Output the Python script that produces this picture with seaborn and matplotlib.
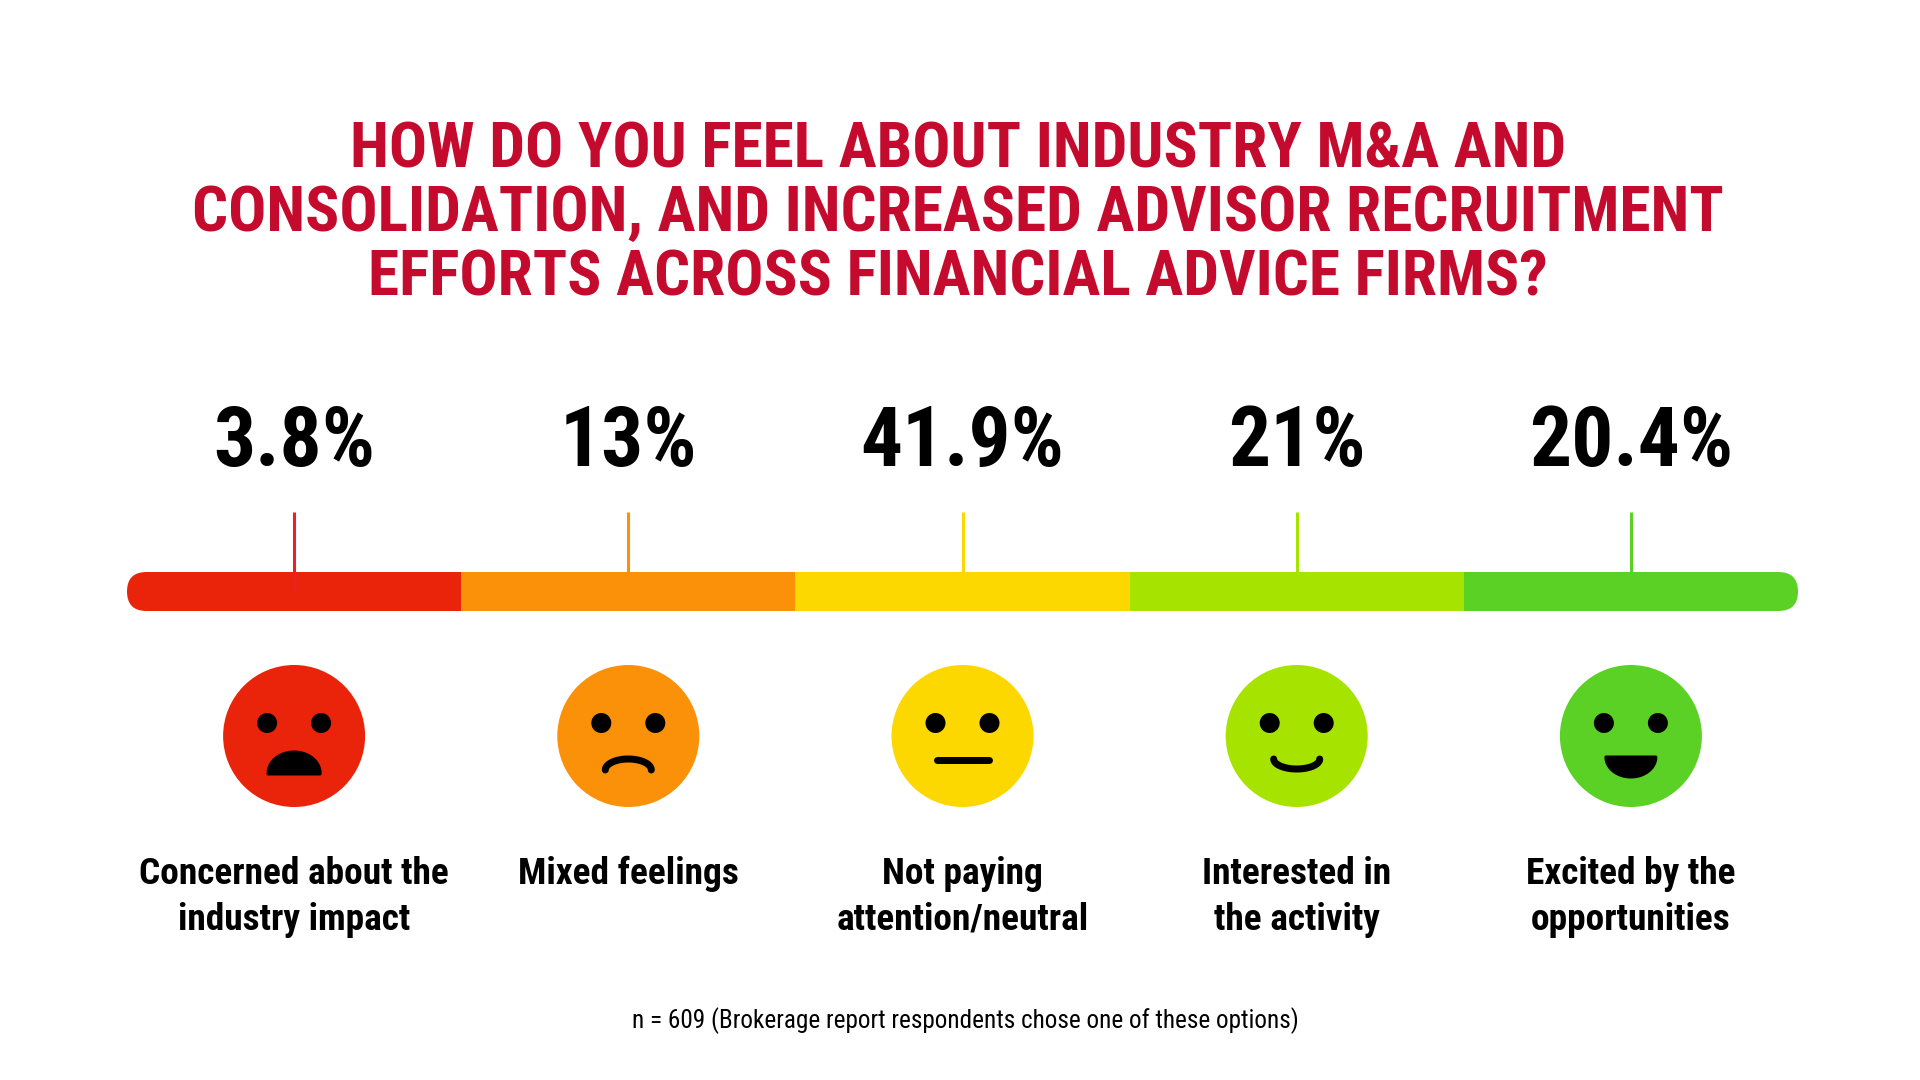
import numpy as np
import matplotlib
matplotlib.use("Agg")
import matplotlib.pyplot as plt
import seaborn as sns
from matplotlib import font_manager as fm
from matplotlib.patches import Ellipse, FancyBboxPatch, Polygon

# ---- data ----
CATEGORIES = ["Concerned about the\nindustry impact", "Mixed feelings",
              "Not paying\nattention/neutral", "Interested in\nthe activity",
              "Excited by the\nopportunities"]
PERCENT_LABELS = ["3.8%", "13%", "41.9%", "21%", "20.4%"]
MOODS = ["concerned", "frown", "neutral", "smile", "grin"]
COLORS = ["#EA240A", "#FA9108", "#FCD800", "#A6E400", "#5BD126"]
TICK_COLORS = ["#E8202C", "#FA9108", "#FCD800", "#A6E400", "#5BD126"]
TITLE_LINES = ["HOW DO YOU FEEL ABOUT INDUSTRY M&A AND",
               "CONSOLIDATION, AND INCREASED ADVISOR RECRUITMENT",
               "EFFORTS ACROSS FINANCIAL ADVICE FIRMS?"]
FOOTNOTE = "n = 609 (Brokerage report respondents chose one of these options)"
TITLE_COLOR = "#C40A2D"

# ---- layout (pixels on a 1920x1080 canvas) ----
W, H = 1920, 1080
BAR_X0, BAR_X1 = 127, 1798
SEG_W = (BAR_X1 - BAR_X0) / len(CATEGORIES)
BAR_TOP, BAR_BOT = 572, 611
TICK_TOP, TICK_BOT = 512, 590
PCT_BASE = 466
FACE_Y, FACE_R = 736, 71
LABEL_BASE, LABEL_GAP = 884, 46
TITLE_BASES = [167, 231, 295]
TITLE_X = 958
FOOT_BASE = 1028
PT = 72 / 100  # points per pixel

sns.set_theme(style="white")
avail = {f.name for f in fm.fontManager.ttflist}


def pick(*names):
    for n in names:
        if n in avail:
            return n
    return "DejaVu Sans"


FONT = pick("Roboto Condensed", "Liberation Sans Narrow", "Noto Sans Condensed",
            "Open Sans Condensed", "DejaVu Sans Condensed", "Roboto")
plt.rcParams["font.family"] = [FONT, "DejaVu Sans"]

fig = plt.figure(figsize=(W / 100, H / 100), dpi=100)
fig.patch.set_facecolor("white")
ax = fig.add_axes([0, 0, 1, 1])
xlim = (-0.5 - BAR_X0 / SEG_W, (W - BAR_X0) / SEG_W - 0.5)
ax.set_xlim(*xlim)
ax.set_ylim(H, 0)
ax.axis("off")

# segmented bar, drawn by seaborn on its own axes, clipped to a pill shape
bar_ax = fig.add_axes([0, 1 - BAR_BOT / H, 1, (BAR_BOT - BAR_TOP) / H])
df = {"cat": CATEGORIES, "fill": [1] * len(CATEGORIES)}
sns.barplot(x="cat", y="fill", hue="cat", data=df, palette=COLORS, width=1,
            saturation=1, linewidth=0, legend=False, ax=bar_ax)
bar_ax.set_xlim(*xlim)
bar_ax.set_ylim(0, 1)
bar_ax.axis("off")
r = (BAR_BOT - BAR_TOP) / 2 / SEG_W
pill = FancyBboxPatch((-0.5, 0), len(CATEGORIES), 1,
                      boxstyle=f"round,pad=0,rounding_size={r}",
                      mutation_aspect=0.5 / r, transform=bar_ax.transData)
for p in bar_ax.patches:
    p.set_clip_path(pill)

idx = np.arange(len(CATEGORIES))
ax.vlines(idx, TICK_TOP, TICK_BOT, colors=TICK_COLORS, linewidth=2.2, zorder=3)
bar_ax.set_zorder(1)
ax.set_zorder(2)
ax.patch.set_alpha(0)


def px(i, dx):
    return i + dx / SEG_W


def draw_face(i, mood, color):
    ax.add_patch(Ellipse((i, FACE_Y), 2 * FACE_R / SEG_W, 2 * FACE_R,
                         color=color, lw=0))
    for ex in (-27, 27):
        ax.add_patch(Ellipse((px(i, ex), FACE_Y - 13), 20 / SEG_W, 20,
                             color="black", lw=0))
    t = np.linspace(0, np.pi, 40)
    if mood == "concerned":
        xs = 26 * np.cos(t)
        ys = 37 - 21 * np.sin(t)
        pts = np.column_stack([xs, ys])
        pts = np.vstack([pts, [[-26, 38], [26, 38]]])
    elif mood == "grin":
        xs = -25 * np.cos(t)
        ys = 21 + 20 * np.sin(t)
        pts = np.column_stack([xs, ys])
        pts = np.vstack([pts, [[-25, 21]]])
    if mood in ("concerned", "grin"):
        poly = np.column_stack([px(i, pts[:, 0]), FACE_Y + pts[:, 1]])
        ax.add_patch(Polygon(poly, closed=True, facecolor="black",
                             edgecolor="black", lw=3 * PT, joinstyle="round"))
        return
    if mood == "neutral":
        xs, ys = np.array([-26, 26]), np.array([24, 24])
    elif mood == "frown":
        xs, ys = 23 * np.cos(t), 34 - 11 * np.sin(t)
    else:
        xs, ys = 23 * np.cos(t), 23 + 10 * np.sin(t)
    ax.plot(px(i, xs), FACE_Y + ys, color="black", lw=7 * PT,
            solid_capstyle="round")


for i, (mood, col) in enumerate(zip(MOODS, COLORS)):
    draw_face(i, mood, col)

renderer = fig.canvas.get_renderer()


def fit(texts, target_w):
    widths = [t.get_window_extent(renderer).width for t in texts]
    k = target_w / max(widths)
    k = min(max(k, 0.75), 1.15)
    for t in texts:
        t.set_fontsize(t.get_fontsize() * k)


pct_texts = [ax.text(i, PCT_BASE, lab, ha="center", va="baseline",
                     fontsize=57, fontweight="bold", fontstretch="condensed",
                     color="black")
             for i, lab in enumerate(PERCENT_LABELS)]
fit([pct_texts[4]], 204)
for t in pct_texts[:4]:
    t.set_fontsize(pct_texts[4].get_fontsize())

cat_texts = []
for i, lab in enumerate(CATEGORIES):
    for j, line in enumerate(lab.split("\n")):
        cat_texts.append(ax.text(i, LABEL_BASE + j * LABEL_GAP, line,
                                 ha="center", va="baseline", fontsize=26,
                                 fontweight="bold", fontstretch="condensed",
                                 color="black"))
fit([cat_texts[0]], 310)
for t in cat_texts[1:]:
    t.set_fontsize(cat_texts[0].get_fontsize())

title_texts = [fig.text(TITLE_X / W, 1 - b / H, line, ha="center",
                        va="baseline", fontsize=49, fontweight="bold",
                        fontstretch="condensed", color=TITLE_COLOR)
               for line, b in zip(TITLE_LINES, TITLE_BASES)]
fit([title_texts[1]], 1530)
for t in title_texts:
    t.set_fontsize(title_texts[1].get_fontsize())

foot = fig.text(965 / W, 1 - FOOT_BASE / H, FOOTNOTE, ha="center",
                va="baseline", fontsize=18, fontstretch="condensed",
                color="black")
fit([foot], 670)

fig.savefig("out.png", dpi=100, facecolor="white")
